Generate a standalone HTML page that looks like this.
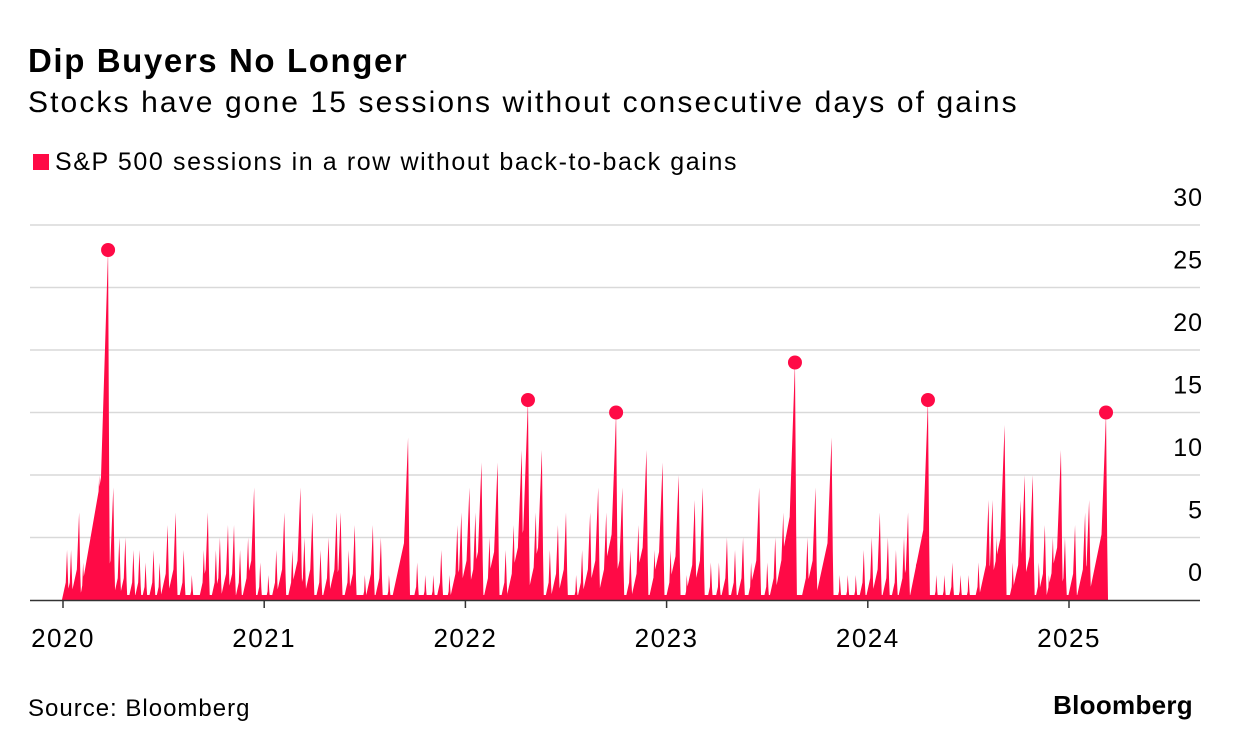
<!DOCTYPE html>
<html><head><meta charset="utf-8"><style>
body{margin:0;width:1233px;height:750px;background:#fff;font-family:"Liberation Sans",sans-serif;color:#000;overflow:hidden;position:relative}
.t{position:absolute;white-space:nowrap}
</style></head><body>
<div class="t" style="left:28px;top:42px;font-size:33px;font-weight:bold;letter-spacing:1.6px">Dip Buyers No Longer</div>
<div class="t" style="left:28px;top:86px;font-size:30px;letter-spacing:2.1px">Stocks have gone 15 sessions without consecutive days of gains</div>
<div class="t" style="left:33px;top:148px;font-size:25px;letter-spacing:1.6px"><span style="display:inline-block;width:16px;height:16px;background:#ff0a46;margin-right:6px"></span>S&amp;P 500 sessions in a row without back-to-back gains</div>
<svg width="1233" height="750" style="position:absolute;left:0;top:0" id="chart"></svg>
<div class="t" style="left:28px;top:695px;font-size:24px;letter-spacing:1px">Source: Bloomberg</div>
<div class="t" style="right:40px;top:690px;font-size:26px;font-weight:bold;letter-spacing:0.3px">Bloomberg</div>
<script>
const yTicks=[0,5,10,15,20,25,30];
const xYears=[2020,2021,2022,2023,2024,2025];
const spikeDates=[2020.02,2020.04,2020.08,2020.1,2020.14,2020.18,2020.224,2020.25,2020.28,2020.31,2020.35,2020.38,2020.41,2020.45,2020.48,2020.52,2020.56,2020.6,2020.64,2020.7,2020.72,2020.76,2020.78,2020.82,2020.85,2020.88,2020.92,2020.95,2020.98,
2021.02,2021.06,2021.1,2021.14,2021.18,2021.2,2021.24,2021.28,2021.32,2021.36,2021.38,2021.42,2021.45,2021.5,2021.54,2021.58,2021.62,2021.66,2021.7,2021.715,2021.76,2021.8,2021.84,2021.88,2021.92,2021.96,2021.98,
2022.02,2022.05,2022.08,2022.12,2022.16,2022.2,2022.24,2022.28,2022.311,2022.35,2022.38,2022.42,2022.46,2022.5,2022.55,2022.58,2022.62,2022.66,2022.7,2022.749,2022.78,2022.82,2022.86,2022.9,2022.94,2022.98,
2023.02,2023.06,2023.1,2023.14,2023.18,2023.22,2023.26,2023.3,2023.34,2023.38,2023.42,2023.46,2023.5,2023.54,2023.58,2023.638,2023.7,2023.74,2023.82,2023.86,2023.9,2023.94,2023.98,
2024.02,2024.06,2024.1,2024.14,2024.18,2024.2,2024.24,2024.299,2024.34,2024.38,2024.42,2024.46,2024.5,2024.55,2024.6,2024.62,2024.64,2024.68,2024.72,2024.76,2024.78,2024.82,2024.85,2024.88,2024.9,2024.92,2024.96,2024.98,
2025.03,2025.08,2025.1,2025.13,2025.184];
const spikeValues=[4,4,7,3,5,10,28,9,5,5,4,4,3,4,3,6,7,4,2,4,7,4,5,6,6,4,5,9,3,
2,4,7,4,9,5,7,4,5,7,7,4,6,2,6,5,2,2,5,13,3,2,2,4,2,6,7,
9,7,11,5,11,4,6,12,16,7,12,4,6,7,2,4,7,9,7,15,9,4,6,12,4,11,
4,10,2,8,9,3,3,5,4,5,3,9,3,5,7,19,5,9,13,2,2,2,4,
5,7,5,4,5,7,3,16,2,2,3,2,2,3,8,8,5,14,3,8,10,10,3,6,2,5,12,5,
6,7,8,2,15];
const markedDates=[2020.224,2022.311,2022.749,2023.638,2024.299,2025.184];
const markedValues=[28,16,15,19,16,15];
const NS="http://www.w3.org/2000/svg";
const svg=document.getElementById('chart');
const X=d=>63+(d-2020)*201.2, Y=v=>600-v*12.5, S=201.2/252;
function mk(tag,attrs){const e=document.createElementNS(NS,tag);for(const k in attrs)e.setAttribute(k,attrs[k]);svg.appendChild(e);return e;}
yTicks.forEach(t=>{
  if(t>0){const l=mk('line',{x1:30,x2:1200,y1:Y(t),y2:Y(t),stroke:'#d9d9d9','stroke-width':1.5});
  
  }
  const tx=mk('text',{x:1203,y:Y(t)-19,'text-anchor':'end','font-size':25,'letter-spacing':1,'font-family':'Liberation Sans, sans-serif'});
  tx.textContent=t;
  
  
});
let d='';
spikeDates.forEach((dt,i)=>{const v=spikeValues[i];
  const w=Math.min(v*S*1.6,v*S+6);
  d+=`M${X(dt)-w},600L${X(dt)-w*0.25},${Y(v*0.35)}L${X(dt)},${Y(v)}L${X(dt)+S*1.5},${Y(v*0.3)}L${X(dt)+S*2.5},600Z`;});
const p=mk('path',{d:d,fill:'#ff0a46'});


const b=mk('rect',{x:X(2020),y:595,width:X(2025.19)-X(2020),height:5,fill:'#ff0a46'});


markedDates.forEach((dt,i)=>{const c=mk('circle',{cx:X(dt),cy:Y(markedValues[i]),r:7,fill:'#ff0a46'});
  
  });
const ax=mk('line',{x1:30,x2:1200,y1:600.5,y2:600.5,stroke:'#333','stroke-width':1.5});


xYears.forEach(yr=>{
  const tk=mk('line',{x1:X(yr),x2:X(yr),y1:600,y2:608,stroke:'#333','stroke-width':1.5});
  
  
  const tx=mk('text',{x:X(yr),y:647,'text-anchor':'middle','font-size':26,'letter-spacing':1.5,'font-family':'Liberation Sans, sans-serif'});
  tx.textContent=yr;
  
  
});
</script>
</body></html>
